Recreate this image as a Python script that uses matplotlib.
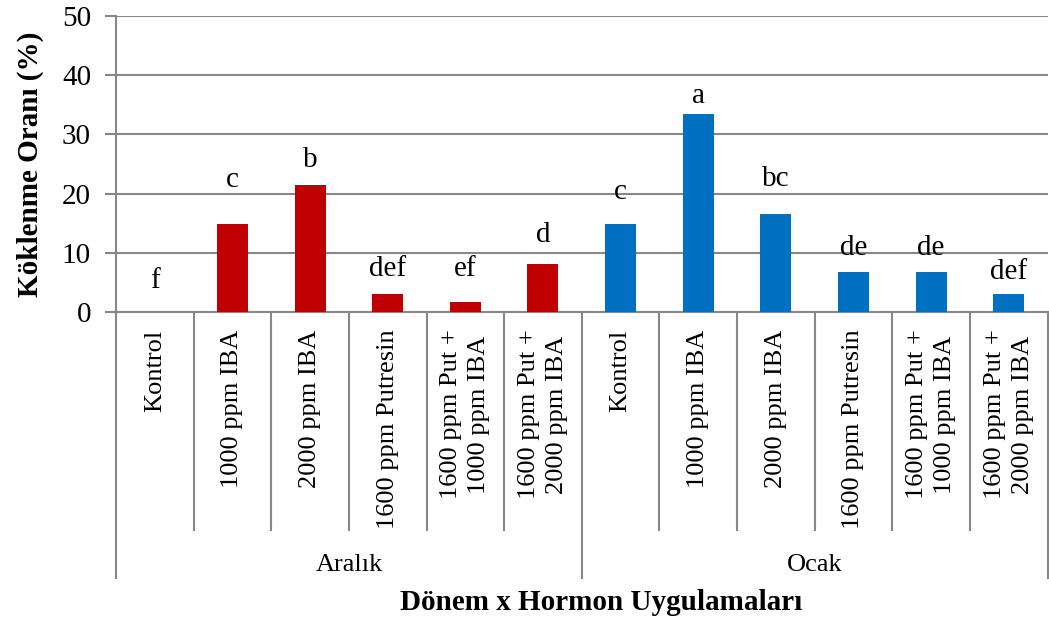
import numpy as np
import matplotlib
matplotlib.use("Agg")
import matplotlib.pyplot as plt
import matplotlib.transforms as mtransforms

plt.rcParams['font.family'] = ['Liberation Serif', 'DejaVu Serif']

# data
treatments = ["Kontrol", "1000 ppm IBA", "2000 ppm IBA", "1600 ppm Putresin",
              "1600 ppm Put +\n1000 ppm IBA", "1600 ppm Put +\n2000 ppm IBA"]
periods = ["Aralık", "Ocak"]
aralik_vals = [0.0, 14.8, 21.5, 3.0, 1.7, 8.1]
ocak_vals = [14.8, 33.5, 16.5, 6.7, 6.7, 3.0]
aralik_letters = ["f", "c", "b", "def", "ef", "d"]
ocak_letters = ["c", "a", "bc", "de", "de", "def"]
# heights where the letters sit (baseline, data units)
aralik_letter_y = [4.1, 21.1, 24.5, 6.1, 6.1, 11.8]
ocak_letter_y = [19.1, 35.3, 21.3, 9.7, 9.7, 5.5]

colors = {"Aralık": "#C00000", "Ocak": "#0070C0"}
grid_c = "#878787"

fig = plt.figure(figsize=(10.49, 6.21), dpi=100)
ax = fig.add_axes([0.1106, 0.4976, 0.888, 0.4766])

n = len(treatments)
x_ar = np.arange(n)
x_oc = np.arange(n) + n

ax.bar(x_ar, aralik_vals, width=0.4, color=colors["Aralık"], zorder=3)
ax.bar(x_oc, ocak_vals, width=0.4, color=colors["Ocak"], zorder=3)

for xs, ys, labs in [(x_ar, aralik_letter_y, aralik_letters), (x_oc, ocak_letter_y, ocak_letters)]:
    for xi, yi, lab in zip(xs, ys, labs):
        ax.text(xi, yi, lab, ha="center", va="baseline", fontsize=21)

ax.set_xlim(-0.5, 2 * n - 0.5)
ax.set_ylim(0, 50)
ax.set_yticks(np.arange(0, 51, 10))
ax.yaxis.grid(True, color=grid_c, linewidth=1.5, zorder=0)
ax.set_axisbelow(True)
ax.tick_params(axis="y", labelsize=21, length=8, width=1.5, color=grid_c, pad=10)
ax.set_xticks([])
for s in ["top", "right"]:
    ax.spines[s].set_visible(False)
ax.spines["left"].set_color(grid_c)
ax.spines["left"].set_linewidth(1.5)
ax.spines["bottom"].set_color(grid_c)
ax.spines["bottom"].set_linewidth(1.5)

# hierarchical category axis
trans = mtransforms.blended_transform_factory(ax.transData, ax.transAxes)
for b in np.arange(-0.5, 2 * n, 1.0):
    low = -0.899 if (b + 0.5) % n == 0 else -0.736
    ax.plot([b, b], [0, low], transform=trans, color=grid_c, lw=1.5, clip_on=False)

all_labels = treatments + treatments
for i, lab in enumerate(all_labels):
    ax.text(i, -0.06, lab, transform=trans, rotation=90, ha="center", va="top",
            multialignment="center", fontsize=19, linespacing=1.35)

for j, p in enumerate(periods):
    ax.text(j * n + (n - 1) / 2, -0.855, p, transform=trans, ha="center", va="center",
            fontsize=19)

ax.set_ylabel("Köklenme Oranı (%)", fontsize=21, fontweight="bold", labelpad=13)
fig.text(601 / 1049, (621 - 603) / 621, "Dönem x Hormon Uygulamaları", ha="center",
         va="center", fontsize=21, fontweight="bold")

fig.savefig("out.png", dpi=100)
